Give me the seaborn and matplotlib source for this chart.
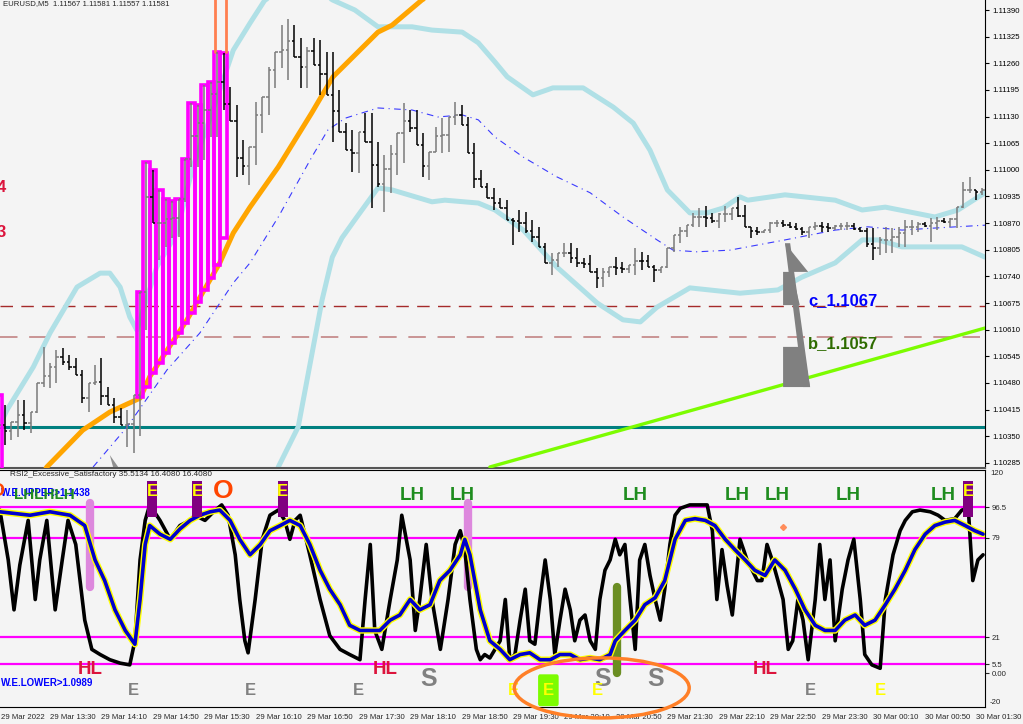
import numpy as np
import pandas as pd
import matplotlib.pyplot as plt
import matplotlib.patches as mpatches
import seaborn as sns

# ---------------- datos de precio (EURUSD M5, barra 0 = 29 Mar 12:50) ----------------
high = [1.10426, 1.10426, 1.10385, 1.10438, 1.10438, 1.10409, 1.10480, 1.10568, 1.10529, 1.10560,
        1.10565, 1.10548, 1.10541, 1.10512, 1.10480, 1.10524, 1.10541, 1.10470, 1.10443, 1.10419,
        1.10414, 1.10451, 1.10702, 1.11019, 1.10999, 1.10951, 1.10929, 1.10924, 1.10929, 1.11027,
        1.11163, 1.11158, 1.11207, 1.11214, 1.11288, 1.11285, 1.11202, 1.11158, 1.11073, 1.11056,
        1.11166, 1.11178, 1.11251, 1.11288, 1.11353, 1.11368, 1.11353, 1.11322, 1.11300, 1.11322,
        1.11317, 1.11288, 1.11288, 1.11195, 1.11114, 1.11097, 1.11092, 1.11139, 1.11139, 1.11068,
        1.11036, 1.11061, 1.11090, 1.11163, 1.11146, 1.11146, 1.11090, 1.11044, 1.11105, 1.11126,
        1.11129, 1.11166, 1.11158, 1.11129, 1.11065, 1.10999, 1.10968, 1.10956, 1.10931, 1.10926,
        1.10882, 1.10902, 1.10897, 1.10878, 1.10861, 1.10822, 1.10797, 1.10797, 1.10822, 1.10822,
        1.10809, 1.10785, 1.10792, 1.10761, 1.10761, 1.10763, 1.10787, 1.10775, 1.10768, 1.10809,
        1.10800, 1.10792, 1.10768, 1.10763, 1.10809, 1.10841, 1.10861, 1.10866, 1.10895, 1.10907,
        1.10912, 1.10895, 1.10895, 1.10912, 1.10907, 1.10934, 1.10914, 1.10861, 1.10861, 1.10853,
        1.10873, 1.10878, 1.10878, 1.10873, 1.10870, 1.10861, 1.10861, 1.10873, 1.10873, 1.10870,
        1.10866, 1.10870, 1.10873, 1.10870, 1.10861, 1.10858, 1.10858, 1.10836, 1.10861, 1.10858,
        1.10861, 1.10878, 1.10878, 1.10873, 1.10873, 1.10882, 1.10885, 1.10882, 1.10882, 1.10909,
        1.10970, 1.10982, 1.10951, 1.10956]
low = [1.10316, 1.10328, 1.10341, 1.10348, 1.10365, 1.10358, 1.10407, 1.10470, 1.10468, 1.10480,
       1.10524, 1.10512, 1.10500, 1.10431, 1.10409, 1.10475, 1.10426, 1.10426, 1.10382, 1.10377,
       1.10324, 1.10309, 1.10351, 1.10609, 1.10870, 1.10780, 1.10812, 1.10834, 1.10836, 1.10922,
       1.11007, 1.11007, 1.11024, 1.11080, 1.11080, 1.11146, 1.11119, 1.10983, 1.10987, 1.10963,
       1.11012, 1.11090, 1.11134, 1.11200, 1.11249, 1.11219, 1.11275, 1.11200, 1.11200, 1.11256,
       1.11183, 1.11183, 1.11068, 1.11092, 1.11048, 1.10995, 1.10992, 1.11068, 1.10907, 1.10958,
       1.10897, 1.10944, 1.10987, 1.11017, 1.11092, 1.11061, 1.10983, 1.10975, 1.11044, 1.11041,
       1.11044, 1.11109, 1.11109, 1.11041, 1.10956, 1.10958, 1.10931, 1.10902, 1.10907, 1.10878,
       1.10817, 1.10848, 1.10846, 1.10824, 1.10812, 1.10773, 1.10744, 1.10763, 1.10787, 1.10773,
       1.10763, 1.10761, 1.10751, 1.10712, 1.10714, 1.10739, 1.10744, 1.10748, 1.10748, 1.10744,
       1.10756, 1.10763, 1.10726, 1.10748, 1.10761, 1.10800, 1.10822, 1.10836, 1.10861, 1.10861,
       1.10861, 1.10870, 1.10858, 1.10873, 1.10878, 1.10885, 1.10861, 1.10834, 1.10841, 1.10846,
       1.10846, 1.10861, 1.10861, 1.10858, 1.10853, 1.10841, 1.10834, 1.10853, 1.10848, 1.10848,
       1.10853, 1.10853, 1.10853, 1.10853, 1.10848, 1.10812, 1.10780, 1.10792, 1.10797, 1.10797,
       1.10812, 1.10812, 1.10841, 1.10848, 1.10861, 1.10824, 1.10853, 1.10870, 1.10861, 1.10858,
       1.10907, 1.10943, 1.10926, 1.10939]
close = [1.10377, 1.10363, 1.10385, 1.10401, 1.10383, 1.10409, 1.10480, 1.10498, 1.10520, 1.10544,
         1.10530, 1.10520, 1.10500, 1.10444, 1.10480, 1.10483, 1.10448, 1.10426, 1.10398, 1.10377,
         1.10380, 1.10451, 1.10702, 1.10934, 1.10870, 1.10870, 1.10879, 1.10882, 1.10929, 1.11027,
         1.11082, 1.11115, 1.11147, 1.11184, 1.11215, 1.11160, 1.11119, 1.11030, 1.11009, 1.11056,
         1.11134, 1.11178, 1.11244, 1.11288, 1.11293, 1.11314, 1.11275, 1.11250, 1.11289, 1.11256,
         1.11235, 1.11183, 1.11143, 1.11092, 1.11048, 1.11042, 1.11092, 1.11068, 1.11013, 1.10966,
         1.11002, 1.11038, 1.11090, 1.11119, 1.11103, 1.11061, 1.11009, 1.11044, 1.11083, 1.11086,
         1.11129, 1.11133, 1.11109, 1.11041, 1.10978, 1.10958, 1.10931, 1.10919, 1.10907, 1.10878,
         1.10875, 1.10871, 1.10851, 1.10836, 1.10812, 1.10773, 1.10780, 1.10797, 1.10797, 1.10786,
         1.10773, 1.10771, 1.10751, 1.10737, 1.10751, 1.10763, 1.10761, 1.10758, 1.10768, 1.10778,
         1.10777, 1.10763, 1.10755, 1.10763, 1.10809, 1.10841, 1.10851, 1.10866, 1.10884, 1.10886,
         1.10882, 1.10876, 1.10892, 1.10892, 1.10907, 1.10887, 1.10861, 1.10851, 1.10849, 1.10853,
         1.10870, 1.10870, 1.10865, 1.10861, 1.10855, 1.10848, 1.10860, 1.10862, 1.10860, 1.10858,
         1.10862, 1.10862, 1.10862, 1.10856, 1.10850, 1.10820, 1.10810, 1.10830, 1.10830, 1.10835,
         1.10845, 1.10860, 1.10860, 1.10867, 1.10864, 1.10870, 1.10876, 1.10872, 1.10880, 1.10909,
         1.10950, 1.10950, 1.10945, 1.10950]

# cajas magenta (indicador) : barra, techo, base
box_bar = [22, 23, 24, 25, 26, 27, 28, 29, 30, 31, 32, 33, 34, 35]
box_top = [1.10702, 1.11019, 1.10999, 1.10951, 1.10929, 1.10924, 1.10929, 1.11027, 1.11163, 1.11158,
           1.11207, 1.11214, 1.11288, 1.11285]
box_bot = [1.10446, 1.10470, 1.10504, 1.10529, 1.10553, 1.10578, 1.10602, 1.10626, 1.10651, 1.10677,
           1.10707, 1.10736, 1.10768, 1.10834]

# media movil naranja
ma_x = [6.4, 7.5, 13.1, 17.3, 22.0, 23.5, 29.3, 34.4, 36.5, 39.1, 43.5, 48.7, 52.0, 59.0, 61.2, 65.8, 71.8]
ma_y = [1.10243, 1.10275, 1.10365, 1.10409, 1.10443, 1.10495, 1.10634, 1.10773, 1.10846, 1.10909,
        1.11007, 1.11139, 1.11227, 1.11336, 1.11353, 1.11414, 1.11475]

# bandas de bollinger
up_x = [0.2, 1.3, 5.4, 8.0, 12.2, 15.8, 17.3, 18.9, 20.4, 21.5, 24.6, 27.7, 30.2, 32.4, 34.4, 36.5,
        39.1, 41.4, 46.9, 52.0, 55.4, 59.0, 64.3, 67.4, 72.1, 74.6, 77.2, 79.1, 83.1, 86.2, 90.9,
        95.6, 98.7, 101.3, 104.0, 107.5, 110.2, 112.7, 115.3, 116.5, 122.3, 130.1, 134.3, 137.9,
        145.6, 149.2, 153.4]
up_y = [1.10377, 1.10414, 1.10519, 1.10602, 1.10714, 1.10748, 1.10748, 1.10714, 1.10641, 1.10609,
        1.10763, 1.10846, 1.11007, 1.11105, 1.11195, 1.11292, 1.11358, 1.11414, 1.11463, 1.11414,
        1.11390, 1.11349, 1.11349, 1.11341, 1.11336, 1.11310, 1.11263, 1.11227, 1.11183, 1.11200,
        1.11200, 1.11153, 1.11114, 1.11048, 1.10951, 1.10895, 1.10895, 1.10907, 1.10934, 1.10926,
        1.10939, 1.10926, 1.10902, 1.10909, 1.10885, 1.10902, 1.10944]
lo_x = [42.2, 43.5, 46.6, 50.3, 51.9, 53.4, 55.4, 59.0, 61.2, 67.4, 69.4, 74.6, 77.2, 81.6, 86.8,
        93.1, 97.1, 99.8, 102.4, 107.5, 115.3, 121.2, 124.9, 130.1, 134.3, 136.8, 140.5, 145.6,
        149.8, 153.4]
lo_y = [1.10195, 1.10275, 1.10373, 1.10682, 1.10787, 1.10834, 1.10878, 1.10956, 1.10951, 1.10922,
        1.10926, 1.10919, 1.10902, 1.10853, 1.10763, 1.10675, 1.10634, 1.10629, 1.10665, 1.10712,
        1.10699, 1.10707, 1.10738, 1.10773, 1.10829, 1.10829, 1.10812, 1.10812, 1.10812, 1.10787]
mid_x = [14.7, 20.0, 26.2, 31.3, 36.5, 39.1, 43.5, 48.7, 51.2, 53.9, 59.0, 64.3, 68.3, 72.1, 74.6,
         77.2, 81.6, 86.8, 92.0, 97.1, 102.4, 104.9, 108.6, 113.7, 122.3, 130.1, 135.2, 140.5,
         145.6, 153.4]
mid_y = [1.10275, 1.10373, 1.10512, 1.10602, 1.10724, 1.10773, 1.10885, 1.11031, 1.11097, 1.11126,
         1.11151, 1.11146, 1.11129, 1.11134, 1.11122, 1.11080, 1.11031, 1.10983, 1.10944, 1.10885,
         1.10829, 1.10804, 1.10800, 1.10804, 1.10829, 1.10853, 1.10861, 1.10853, 1.10858, 1.10865]

# niveles horizontales y linea de tendencia
teal_level = 1.10372
c_level = 1.10668
b_level = 1.10592
trend_x = [76.4, 153.4]
trend_y = [1.10275, 1.10614]

# ---------------- RSI ----------------
rsi_x = [0.2, 1.5, 2.4, 3.3, 4.6, 5.7, 6.4, 7.5, 8.8, 9.9, 10.8, 12.0, 13.4, 14.5, 15.8, 17.3, 18.9,
         20.4, 21.2, 22.0, 22.8, 23.5, 25.1, 26.7, 28.2, 29.8, 30.5, 32.1, 33.7, 34.7, 35.7, 36.8,
         37.5, 38.3, 38.8, 39.9, 41.0, 42.2, 43.5, 44.5, 45.3, 46.1, 46.9, 48.4, 50.0, 51.5, 53.1,
         54.6, 56.2, 57.0, 57.8, 58.5, 59.6, 60.9, 62.0, 62.7, 64.0, 64.8, 65.5, 66.5, 67.4, 68.7,
         69.9, 71.0, 71.8, 72.5, 73.3, 74.3, 74.9, 75.6, 76.4, 78.0, 78.8, 79.5, 80.3, 81.1, 81.9,
         82.6, 83.4, 84.2, 85.0, 85.8, 86.5, 87.3, 88.1, 88.9, 89.6, 90.4, 91.2, 92.0, 92.8, 93.5,
         94.3, 95.1, 95.9, 96.6, 97.4, 98.2, 99.0, 99.7, 100.5, 101.3, 102.1, 102.9, 103.6, 104.4,
         105.2, 106.0, 107.5, 109.1, 110.2, 111.0, 111.7, 112.5, 113.3, 114.1, 115.3, 116.4, 117.2,
         118.0, 118.7, 119.5, 120.3, 121.2, 122.0, 122.8, 123.5, 124.3, 125.1, 125.9, 127.0, 127.7,
         128.5, 129.3, 130.1, 131.2, 132.1, 133.0, 134.0, 134.7, 135.8, 137.1, 137.9, 139.1, 140.2,
         141.0, 142.1, 143.3, 144.9, 146.1, 147.2, 148.7, 149.8, 150.8, 151.5, 152.3, 153.1]
rsi_v = [95, 66, 37, 63, 89, 43, 66, 89, 37, 66, 89, 75, 31, 14, 11, 8, 6, 5, 19, 66, 89, 98, 89,
         78, 86, 89, 92, 89, 95, 98, 92, 69, 43, 19, 12, 43, 78, 92, 95, 89, 78, 89, 92, 69, 43, 22,
         14, 11, 8, 43, 75, 25, 14, 43, 66, 92, 66, 25, 43, 75, 43, 14, 43, 75, 83, 72, 43, 14, 8,
         11, 9, 19, 43, 8, 11, 31, 49, 19, 17, 43, 66, 43, 11, 31, 49, 37, 19, 31, 34, 19, 14, 43,
         60, 66, 78, 69, 75, 43, 14, 66, 75, 57, 43, 31, 49, 75, 92, 96, 98, 98, 98, 83, 43, 72, 51,
         34, 78, 66, 60, 54, 54, 75, 66, 54, 43, 14, 19, 43, 31, 8, 43, 75, 43, 66, 19, 49, 66, 78,
         43, 11, 5, 3, 43, 69, 83, 89, 94, 95, 94, 92, 89, 90, 95, 96, 54, 66, 69]
sig_x = [0.2, 4.9, 8.0, 11.1, 13.4, 15.0, 16.5, 18.1, 19.7, 21.2, 22.0, 22.8, 23.5, 25.1, 26.7, 28.2,
         29.8, 31.3, 32.9, 34.4, 36.0, 37.5, 39.1, 40.7, 42.2, 43.8, 45.3, 46.9, 48.4, 50.0, 51.5,
         53.1, 54.6, 56.2, 57.8, 59.3, 60.9, 62.4, 64.0, 65.5, 67.1, 68.6, 70.2, 71.8, 72.5, 73.3,
         74.9, 76.4, 78.0, 79.5, 81.1, 82.6, 84.2, 85.8, 87.3, 88.9, 90.4, 92.0, 93.5, 95.1, 95.9,
         97.4, 99.0, 100.5, 102.1, 103.6, 105.2, 106.8, 108.3, 109.9, 111.4, 113.0, 114.5, 116.1,
         117.6, 119.2, 120.7, 122.3, 123.9, 125.4, 127.0, 128.5, 130.1, 131.6, 133.2, 134.7, 136.3,
         137.9, 139.4, 141.0, 142.5, 144.1, 145.6, 147.2, 148.7, 150.3, 151.8, 153.1]
sig_v = [94, 92, 94, 92, 86, 66, 54, 37, 25, 17, 43, 75, 86, 81, 78, 84, 89, 92, 94, 95, 89, 78, 69,
         75, 83, 86, 89, 86, 75, 60, 49, 40, 28, 25, 25, 25, 31, 34, 43, 37, 40, 54, 60, 69, 78, 69,
         37, 19, 14, 8, 11, 12, 8, 8, 11, 11, 8, 9, 8, 11, 19, 25, 31, 40, 44, 54, 78, 89, 90, 89,
         86, 78, 72, 66, 60, 57, 66, 60, 49, 37, 28, 25, 25, 31, 34, 28, 31, 40, 49, 60, 72, 81, 86,
         88, 89, 86, 83, 81]
rsi_levels = [96.5, 79, 21, 5.5]

lh_bars = [64.3, 72.1, 99.0, 114.8, 121.1, 132.1, 146.9]
hl_bars = [14.2, 60.1, 119.2]
e_top_bars = [23.9, 30.9, 44.2, 150.8]
e_gray_bars = [20.9, 39.1, 55.9, 126.2]
e_yellow_bars = [80.0, 93.1, 137.1]
s_bars = [66.8, 94.0, 102.1]
pink_bars = [14.2, 73.0]

tick_bars = [0.3, 8, 16, 24, 32, 40, 48, 56, 64, 72, 80, 88, 96, 104, 112, 120, 128, 136, 144, 152]
tick_labels = ['29 Mar 2022', '29 Mar 13:30', '29 Mar 14:10', '29 Mar 14:50', '29 Mar 15:30',
               '29 Mar 16:10', '29 Mar 16:50', '29 Mar 17:30', '29 Mar 18:10', '29 Mar 18:50',
               '29 Mar 19:30', '29 Mar 20:10', '29 Mar 20:50', '29 Mar 21:30', '29 Mar 22:10',
               '29 Mar 22:50', '29 Mar 23:30', '30 Mar 00:10', '30 Mar 00:50', '30 Mar 01:30']

# ---------------- figura ----------------
sns.set_style('white')
plt.rcParams['font.family'] = ['Liberation Sans', 'DejaVu Sans']
BG = '#f4f4f4'
BOLD = ['Liberation Sans', 'DejaVu Sans']
SMALL = 5.6

fig = plt.figure(figsize=(10.23, 7.24), dpi=100, facecolor=BG)
W, H = 1023, 724
ax1 = fig.add_axes([0, 1 - 468 / H, 985 / W, 468 / H], facecolor=BG)
ax2 = fig.add_axes([0, 1 - 707 / H, 985 / W, (707 - 470) / H], facecolor=BG)

XLIM = (0.22, 153.4)

# ---- panel de precio ----
n = len(high)
bars = np.arange(n)
openp = [close[0]] + [min(max(close[i - 1], low[i]), high[i]) for i in range(1, n)]
cols = ['#7a7a7a' if close[i] >= openp[i] else '#000000' for i in range(n)]

ax1.axhline(teal_level, color='#008080', lw=2.2, zorder=1)
ax1.axhline(c_level, color='#a52a2a', lw=1, dashes=(9, 6), zorder=1)
ax1.axhline(b_level, color='#c99494', lw=1.4, dashes=(9, 6), zorder=1)

sns.lineplot(x=up_x, y=up_y, ax=ax1, color='#b0e0e6', lw=3.6, sort=False, zorder=2)
sns.lineplot(x=lo_x, y=lo_y, ax=ax1, color='#b0e0e6', lw=3.6, sort=False, zorder=2)
sns.lineplot(x=mid_x, y=mid_y, ax=ax1, color='#3a3aff', lw=0.8, sort=False, zorder=2,
             dashes=False, linestyle=(0, (6, 4, 1, 4)))
sns.lineplot(x=ma_x, y=ma_y, ax=ax1, color='#ffa500', lw=3.6, sort=False, zorder=3)
sns.lineplot(x=trend_x, y=trend_y, ax=ax1, color='#7cfc00', lw=2.4, zorder=3)

for b, t, lo_ in zip(box_bar, box_top, box_bot):
    ax1.add_patch(mpatches.Rectangle((b - 0.5, lo_), 1.0, t - lo_, fill=False,
                                     ec='#ff00ff', lw=2.6, zorder=4))
ax1.add_patch(mpatches.Rectangle((-0.5, 1.10200), 1.0, high[0] + 0.00025 - 1.10200, fill=False,
                                 ec='#ff00ff', lw=2.6, zorder=4))
for b in [33.6, 35.4]:
    ax1.plot([b, b], [1.11288, 1.1150], color='#ff7f50', lw=2, zorder=4)

ax1.vlines(bars, low, high, colors=cols, lw=1.1, zorder=5)
ax1.hlines(openp, bars - 0.38, bars, colors=cols, lw=1.1, zorder=5)
ax1.hlines(close, bars, bars + 0.38, colors=cols, lw=1.1, zorder=5)

# abanico gris
ax1.add_patch(mpatches.Polygon([(122.3, 1.10821), (125.9, 1.10751), (122.0, 1.10751),
                                (122.0, 1.10670), (124.6, 1.10670)], closed=True, fc='#808080',
                               ec='none', zorder=4))
ax1.add_patch(mpatches.Polygon([(122.3, 1.10821), (123.1, 1.10821), (126.2, 1.10470),
                                (125.1, 1.10470)], closed=True, fc='#808080', ec='none', zorder=4))
ax1.add_patch(mpatches.Polygon([(122.0, 1.10568), (125.1, 1.10568), (126.2, 1.10470),
                                (122.0, 1.10470)], closed=True, fc='#808080', ec='none', zorder=4))
ax1.add_patch(mpatches.Polygon([(17.3, 1.10304), (18.6, 1.10275), (17.8, 1.10275)], closed=True,
                               fc='#909090', ec='none', zorder=4))

ax1.text(125.9, c_level + 0.00014, 'c_1.1067', color='#0000ff', fontsize=12, fontweight='bold',
         family=BOLD, va='center', ha='left', zorder=6)
ax1.text(125.9, b_level - 0.00017, 'b_1.1057', color='#2e6b00', fontsize=12, fontweight='bold',
         family=BOLD, va='center', ha='left', zorder=6)
ax1.text(1.2, 1.10956, '4', color='#dc143c', fontsize=12, fontweight='bold', ha='right',
         va='center', clip_on=True)
ax1.text(1.2, 1.10846, '3', color='#dc143c', fontsize=12, fontweight='bold', ha='right',
         va='center', clip_on=True)

ax1.set_xlim(*XLIM)
ax1.set_ylim(1.102725, 1.114144)
yt = [1.11390 - 0.00065 * i for i in range(18)]
ax1.set_yticks(yt)
ax1.set_yticklabels([f'{v:.5f}' for v in yt])
ax1.yaxis.tick_right()
ax1.tick_params(axis='y', length=3, width=0.8, labelsize=SMALL, pad=2, colors='#000000')
ax1.set_xticks([])
for s in ['top', 'left']:
    ax1.spines[s].set_visible(False)
ax1.spines['right'].set_color('black')
ax1.spines['bottom'].set_color('#555555')
ax1.spines['bottom'].set_linewidth(1.5)
ax1.set_xlabel('')
ax1.set_ylabel('')

fig.text(3 / W, 1 - 4 / H, 'EURUSD,M5  1.11567 1.11581 1.11557 1.11581', fontsize=SMALL,
         va='center', ha='left')

# ---- panel RSI ----
for lv in rsi_levels:
    ax2.axhline(lv, color='#ff00ff', lw=1.6, zorder=1)

for b in pink_bars:
    ax2.plot([b, b], [50, 99], color='#dd88dd', lw=6, solid_capstyle='round', zorder=2)
ax2.plot([96.2, 96.2], [0, 50], color='#6b8e23', lw=6, solid_capstyle='round', zorder=2)

df_rsi = pd.DataFrame({'bar': rsi_x, 'rsi': rsi_v})
df_sig = pd.DataFrame({'bar': sig_x, 'sig': sig_v})
sns.lineplot(data=df_rsi, x='bar', y='rsi', ax=ax2, color='black', lw=2.6, zorder=3)
sns.lineplot(data=df_sig, x='bar', y='sig', ax=ax2, color='#ffff00', lw=4.6, zorder=4)
sns.lineplot(data=df_sig, x='bar', y='sig', ax=ax2, color='#0000cd', lw=2.6, zorder=5)

for b in e_top_bars:
    ax2.add_patch(mpatches.Rectangle((b - 0.8, 91), 1.6, 21, fc='#800080', ec='none', zorder=6))
    ax2.text(b, 106, 'E', color='#ffff00', fontsize=12, fontweight='bold', family=BOLD,
             ha='center', va='center', zorder=7)
ax2.text(34.9, 106, 'O', color='#ff4500', fontsize=19, fontweight='bold', family=BOLD,
         ha='center', va='center', zorder=7)
ax2.text(0.9, 106, 'O', color='#ff4500', fontsize=14, fontweight='bold', family=BOLD,
         ha='right', va='center', zorder=7, clip_on=True)
for b in lh_bars:
    ax2.text(b, 103.5, 'LH', color='#1e8c1e', fontsize=13.5, fontweight='bold', family=BOLD,
             ha='center', va='center', zorder=7)
for b in hl_bars:
    ax2.text(b, 2.5, 'HL', color='#dc143c', fontsize=13.5, fontweight='bold', family=BOLD,
             ha='center', va='center', zorder=7)
for b in e_gray_bars:
    ax2.text(b, -10, 'E', color='#808080', fontsize=12, fontweight='bold', family=BOLD,
             ha='center', va='center', zorder=7)
for b in s_bars:
    ax2.text(b, -3, 'S', color='#808080', fontsize=18, fontweight='bold', family=BOLD,
             ha='center', va='center', zorder=7)
ax2.add_patch(mpatches.FancyBboxPatch((84.2, -17.5), 2.6, 15.5, boxstyle='round,pad=0.3',
                                      fc='#7cfc00', ec='none', zorder=6, mutation_aspect=5))
for b in e_yellow_bars + [85.5]:
    ax2.text(b, -10, 'E', color='#ffff00', fontsize=12, fontweight='bold', family=BOLD,
             ha='center', va='center', zorder=7)
ax2.add_patch(mpatches.Ellipse((93.8, -8.4), 27.2, 34.9, fill=False, ec='#ff7f27', lw=2.5,
                               zorder=8, clip_on=False))
ax2.plot([122.0], [85], marker='D', ms=3, color='#ff8c5a', zorder=7)

ax2.text(0.3, 105, 'W.E.UPPER>1.1438', color='#0000ff', fontsize=7, fontweight='bold',
         ha='left', va='center', zorder=6)
ax2.text(2.4, 103.5, 'LHLHLH', color='#1e8c1e', fontsize=11, fontweight='bold', family=BOLD,
         ha='left', va='center', zorder=7)
ax2.text(0.3, -5.5, 'W.E.LOWER>1.0989', color='#0000ff', fontsize=7, fontweight='bold',
         ha='left', va='center', zorder=6)
fig.text(10 / W, 1 - 474 / H, 'RSI2_Excessive_Satisfactory 35.5134 16.4080 16.4080',
         fontsize=SMALL + 0.3, va='center', ha='left')

ax2.set_xlim(*XLIM)
ax2.set_ylim(-19.5, 118.3)
ax2.yaxis.tick_right()
ax2.set_yticks([96.5, 79, 21, 5.5, 0])
ax2.set_yticklabels(['96.5', '79', '21', '5.5', '0.00'])
ax2.tick_params(axis='y', length=3, width=0.8, labelsize=SMALL, pad=2)
ax2.text(1.005, 1.0, '120', transform=ax2.transAxes, fontsize=SMALL, va='top', ha='left')
ax2.text(1.005, 0.02, '-20', transform=ax2.transAxes, fontsize=SMALL, va='center', ha='left')
ax2.set_xticks(tick_bars)
ax2.set_xticklabels(tick_labels, ha='left')
ax2.tick_params(axis='x', length=3, width=0.8, labelsize=SMALL, pad=2)
ax2.spines['left'].set_visible(False)
for s in ['right', 'bottom', 'top']:
    ax2.spines[s].set_color('black')
ax2.set_xlabel('')
ax2.set_ylabel('')

plt.savefig('out.png', dpi=100, facecolor=BG)
